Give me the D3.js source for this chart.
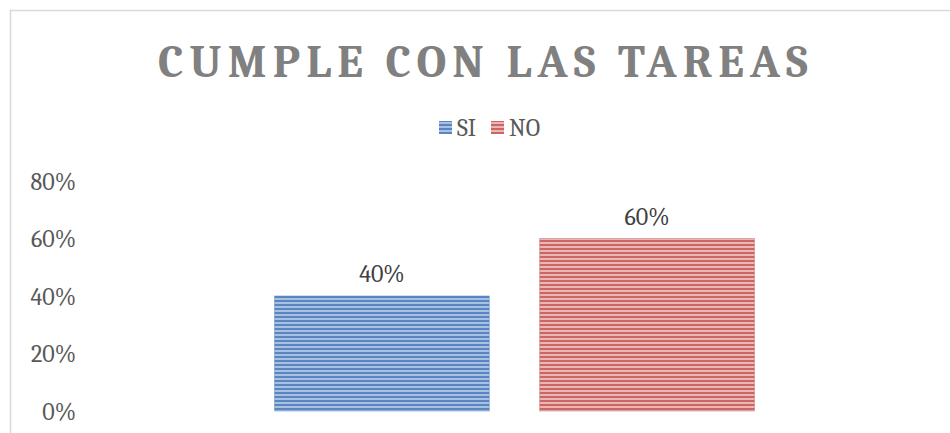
<!DOCTYPE html>
<html><head><meta charset="utf-8">
<script src="https://cdn.jsdelivr.net/npm/d3@7"></script>
<style>body{margin:0;background:#fff}svg{display:block}</style>
</head><body>
<svg id="c" width="950" height="433"></svg>
<script>
const categories = ["SI", "NO"];
const values = [0.40, 0.60];
const tickValues = [0, 0.2, 0.4, 0.6, 0.8];
const title = "CUMPLE CON LAS TAREAS";
const colorsDark = ["#5a85c0", "#cc6664"];
const colorsLight = ["#a8c0e2", "#eab6b5"];

const svg = d3.select("#c");
const font = "Cambria, 'Liberation Serif', 'DejaVu Serif', serif";

// frame
svg.append("rect").attr("x",10.5).attr("y",10.5).attr("width",950).attr("height",440)
  .attr("fill","none").attr("stroke","#d9d9d9").attr("stroke-width",1.5);

const defs = svg.append("defs");
categories.forEach((c,i)=>{
  const p = defs.append("pattern").attr("id","pat"+i).attr("patternUnits","userSpaceOnUse")
    .attr("width",8).attr("height",4);
  p.append("rect").attr("width",8).attr("height",4).attr("fill",colorsLight[i]);
  p.append("rect").attr("width",8).attr("height",2).attr("fill",colorsDark[i]);
});

const y = d3.scaleLinear().domain([0,0.8]).range([411,181]);
const x = d3.scaleBand().domain(categories).range([142,887]).paddingInner(0.19).paddingOuter(0.5);
const yAxis = d3.axisLeft(y).tickValues(tickValues).tickFormat(d3.format(".0%")).tickSize(0);
const ag = svg.append("g").attr("transform","translate(76,0)").call(yAxis);
ag.select(".domain").remove();
ag.selectAll("text").attr("font-family",font).attr("font-size",24).attr("fill","#595959").attr("dx",0).attr("dy","0.35em").attr("x",0);

svg.append("g").selectAll("rect").data(categories).join("rect")
  .attr("x",d=>x(d)).attr("width",x.bandwidth())
  .attr("y",(d,i)=>y(values[i])).attr("height",(d,i)=>y(0)-y(values[i]))
  .attr("fill",(d,i)=>`url(#pat${i})`)
  .attr("stroke",(d,i)=>colorsDark[i]).attr("stroke-opacity",0.5).attr("stroke-width",1);

svg.append("g").selectAll("text").data(categories).join("text")
  .attr("x",d=>x(d)+x.bandwidth()/2).attr("y",(d,i)=>y(values[i])-14)
  .attr("text-anchor","middle").attr("font-family",font).attr("font-size",24).attr("fill","#404040")
  .text((d,i)=>d3.format(".0%")(values[i]));

svg.append("text").attr("x",486).attr("y",77).attr("text-anchor","middle")
  .attr("font-family",font).attr("font-weight","bold").attr("font-size",46)
  .attr("letter-spacing","6.2px").attr("fill","#808080").text(title);

// legend
const leg = svg.append("g");
const legX = [439, 491];
categories.forEach((c,i)=>{
  leg.append("rect").attr("x",legX[i]).attr("y",121).attr("width",13).attr("height",13).attr("fill",`url(#pat${i})`);
  leg.append("text").attr("x",legX[i]+18).attr("y",136).attr("font-family",font).attr("font-size",24)
    .attr("fill","#595959").text(c);
});
</script>
</body></html>
